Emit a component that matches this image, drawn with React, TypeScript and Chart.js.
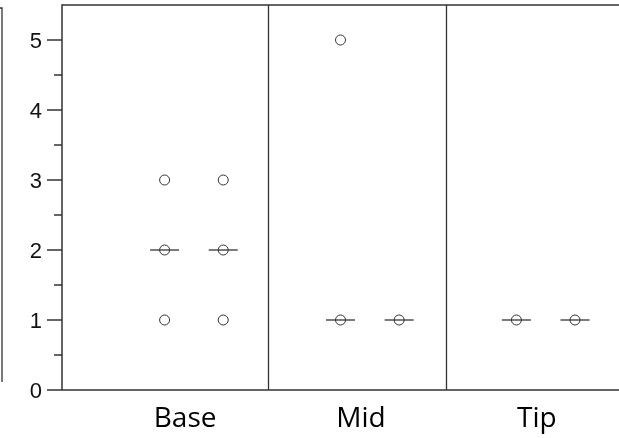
import React, { useEffect, useRef } from "react";
import { Chart, registerables } from "chart.js";

Chart.register(...registerables);

// Groups along the stem and the scores observed in each sample column
const groups = ["Base", "Mid", "Tip"];
const baseColumns = [[3, 2, 1], [3, 2, 1]];
const midColumns = [[5, 1], [1]];
const tipColumns = [[1], [1]];
const baseMedians = [2, 2];
const midMedians = [1, 1];
const tipMedians = [1, 1];
const yTickValues = [0, 1, 2, 3, 4, 5];
const yMinorTickValues = [0.5, 1.5, 2.5, 3.5, 4.5];

// Layout of the x axis (in column units)
const GROUP_STEP = 3;
const X_MIN = -1.75;
const X_MAX = 7.75;
const DIVIDERS = [1.76, 4.8];
const LABEL_OFFSET = 0.35;

const INK = "#333333";

const columnsByGroup = [baseColumns, midColumns, tipColumns];
const mediansByGroup = [baseMedians, midMedians, tipMedians];

const samplePoints: { x: number; y: number }[] = [];
const medianPoints: { x: number; y: number }[] = [];
columnsByGroup.forEach((cols, g) => {
  cols.forEach((col, c) => {
    col.forEach((v) => samplePoints.push({ x: g * GROUP_STEP + c, y: v }));
  });
});
mediansByGroup.forEach((meds, g) => {
  meds.forEach((m, c) => medianPoints.push({ x: g * GROUP_STEP + c, y: m }));
});

const framePlugin = {
  id: "frame",
  beforeDatasetsDraw(chart: any) {
    const { ctx, chartArea, scales } = chart;
    const xs = scales.x;
    const ys = scales.y;
    const { left, right, top, bottom } = chartArea;
    ctx.save();
    ctx.strokeStyle = INK;
    ctx.lineCap = "butt";

    // edge of the neighbouring panel
    ctx.lineWidth = 1.3;
    ctx.beginPath();
    ctx.moveTo(0, top + 3);
    ctx.lineTo(2, top + 3);
    ctx.lineTo(2, bottom - 8);
    ctx.stroke();

    // axis frame: left, top and bottom lines
    ctx.lineWidth = 1.5;
    ctx.beginPath();
    ctx.moveTo(left, bottom);
    ctx.lineTo(left, top);
    ctx.lineTo(right, top);
    ctx.moveTo(left, bottom);
    ctx.lineTo(right, bottom);
    ctx.stroke();

    // group dividers
    ctx.lineWidth = 1.3;
    ctx.beginPath();
    DIVIDERS.forEach((d) => {
      const px = Math.round(xs.getPixelForValue(d)) + 0.5;
      ctx.moveTo(px, top);
      ctx.lineTo(px, bottom);
    });
    ctx.stroke();

    // y ticks
    ctx.lineWidth = 1.3;
    ctx.beginPath();
    yTickValues.forEach((v) => {
      const py = ys.getPixelForValue(v);
      ctx.moveTo(left - 15, py);
      ctx.lineTo(left, py);
    });
    yMinorTickValues.forEach((v) => {
      const py = ys.getPixelForValue(v);
      ctx.moveTo(left - 8, py);
      ctx.lineTo(left, py);
    });
    ctx.stroke();

    // y tick labels
    ctx.fillStyle = "#111111";
    ctx.font = "22px 'Liberation Sans', Arial, sans-serif";
    ctx.textAlign = "right";
    ctx.textBaseline = "middle";
    yTickValues.forEach((v) => {
      ctx.fillText(String(v), left - 20, ys.getPixelForValue(v) + 2);
    });

    // group labels
    ctx.fillStyle = "#000000";
    ctx.font = "28px 'Open Sans', sans-serif";
    ctx.textAlign = "center";
    ctx.textBaseline = "alphabetic";
    groups.forEach((name, g) => {
      const px = xs.getPixelForValue(g * GROUP_STEP + LABEL_OFFSET);
      ctx.fillText(name, px, bottom + 37);
    });
    ctx.restore();
  },
};

export default function App() {
  const canvasRef = useRef<HTMLCanvasElement | null>(null);

  useEffect(() => {
    const canvas = canvasRef.current;
    if (!canvas) return;
    const chart = new Chart(canvas, {
      type: "scatter",
      data: {
        datasets: [
          {
            label: "samples",
            data: samplePoints,
            pointStyle: "circle",
            pointRadius: 5,
            borderWidth: 1,
            borderColor: INK,
            backgroundColor: "rgba(0,0,0,0)",
          },
          {
            label: "median",
            data: medianPoints,
            pointStyle: "line",
            pointRadius: 14.5,
            borderWidth: 1.3,
            borderColor: INK,
            backgroundColor: INK,
          },
        ],
      },
      options: {
        animation: false,
        responsive: false,
        devicePixelRatio: 1,
        layout: { autoPadding: false, padding: { left: 62, top: 5, right: 0, bottom: 48 } },
        scales: {
          x: { type: "linear", min: X_MIN, max: X_MAX, display: false },
          y: { type: "linear", min: 0, max: 5.5, display: false },
        },
        plugins: {
          legend: { display: false },
          tooltip: { enabled: false },
        },
        elements: { point: { hoverRadius: 5 } },
      },
      plugins: [framePlugin],
    });
    return () => chart.destroy();
  }, []);

  return (
    <div style={{ position: "fixed", left: 0, top: 0, width: 619, height: 438, background: "#ffffff" }}>
      <canvas ref={canvasRef} width={619} height={438} style={{ display: "block", width: 619, height: 438 }} />
    </div>
  );
}
